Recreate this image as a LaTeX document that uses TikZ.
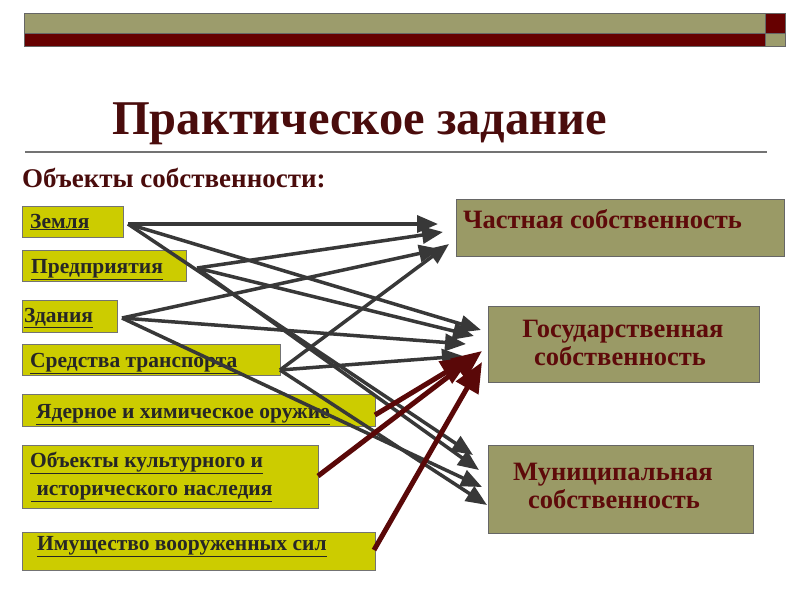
\documentclass[tikz,border=0pt]{standalone}
\usepackage{fontspec}
\setmainfont{Liberation Serif}
\usetikzlibrary{arrows.meta}
\definecolor{barolive}{HTML}{9C9C6C}
\definecolor{barred}{HTML}{660000}
\definecolor{boxolive}{HTML}{9A9A66}
\definecolor{boxyellow}{HTML}{CCCC00}
\definecolor{titlered}{HTML}{4A0C0C}
\definecolor{textred}{HTML}{5E0A0A}
\definecolor{linegray}{HTML}{383838}
\definecolor{linered}{HTML}{5A0808}
\newcommand{\ul}[1]{\underline{#1}}
\tikzset{
  lbox/.style={draw=black!55, line width=1pt, fill=boxyellow, anchor=north west, inner sep=0pt},
  ltext/.style={anchor=base west, inner sep=0pt, font=\fontsize{21.5}{26}\selectfont\bfseries, text=black!85},
  rbox/.style={draw=black!60, line width=1pt, fill=boxolive, anchor=north west, inner sep=0pt},
  rtext/.style={anchor=base west, inner sep=0pt, text=textred, font=\fontsize{26.5}{30}\selectfont\bfseries},
  garrow/.style={draw=linegray, line width=3.5pt, -{Triangle[length=21pt,width=17pt]}},
  rarrow/.style={draw=linered, line width=5pt, -{Triangle[length=30pt,width=25pt]}}
}
\begin{document}
\begin{tikzpicture}[x=1pt,y=-1pt]
\useasboundingbox (0,0) rectangle (800,600);
\fill[white] (0,0) rectangle (800,600);
% top bar
\fill[barolive] (24,13) rectangle (765,33);
\fill[barred] (24,33) rectangle (765,46);
\fill[barred] (765,13) rectangle (785,33);
\fill[barolive] (765,33) rectangle (785,46);
\draw[black!60, line width=0.6pt] (24,13) rectangle (785,46);
\draw[black!60, line width=0.6pt] (24,33) -- (785,33) (765,13) -- (765,46);
% title
\node[anchor=base west, text=titlered, font=\fontsize{48.5}{52}\selectfont\bfseries, inner sep=0pt] (title) at (112,134) {Практическое задание};
\draw[black!55, line width=1.2pt] (25,152) -- (767,152);
\node[anchor=base west, text=titlered, font=\fontsize{27}{30}\selectfont\bfseries, inner sep=0pt] (sub) at (22,187) {Объекты собственности:};
% left boxes
\node[lbox, minimum width=101pt, minimum height=31pt] (zem) at (22,206) {};
\node[lbox, minimum width=164pt, minimum height=31pt] (pred) at (22,250) {};
\node[lbox, minimum width=95pt, minimum height=32pt] (zd) at (22,300) {};
\node[lbox, minimum width=258pt, minimum height=31pt] (sr) at (22,344) {};
\node[lbox, minimum width=353pt, minimum height=32pt] (ya) at (22,394) {};
\node[lbox, minimum width=296pt, minimum height=63pt] (ob) at (22,445) {};
\node[lbox, minimum width=353pt, minimum height=38pt] (im) at (22,532) {};
\node[ltext] (tzem) at (30,228) {\ul{Земля}};
\node[ltext] (tpred) at (31,273) {\ul{Предприятия}};
\node[ltext] (tzd) at (24,322) {\ul{Здания}};
\node[ltext] (tsr) at (30,367) {\ul{Средства транспорта}};
\node[ltext] (tya) at (36,418) {\ul{Ядерное и химическое оружие}};
\node[ltext] (tob1) at (30,467) {\ul{Объекты культурного и}};
\node[ltext] (tob2) at (31,495) {\ul{ исторического наследия}};
\node[ltext] (tim) at (37,550) {\ul{Имущество вооруженных сил}};
% right boxes
\node[rbox, minimum width=328pt, minimum height=57pt] (ch) at (456,199) {};
\node[rbox, minimum width=271pt, minimum height=76pt] (gos) at (488,306) {};
\node[rbox, minimum width=265pt, minimum height=88pt] (mun) at (488,445) {};
\node[rtext] (tch) at (463,228) {Частная собственность};
\node[rtext, anchor=base] (tgos1) at (623,337) {Государственная};
\node[rtext, anchor=base] (tgos2) at (620,365) {собственность};
\node[rtext] (tmun1) at (513,480) {Муниципальная};
\node[rtext] (tmun2) at (528,508) {собственность};
% connector ends
\coordinate (sZ) at (128,224);
\coordinate (sP) at (197,268);
\coordinate (sZd) at (122,318);
\coordinate (sS) at (280,370);
\coordinate (sYa) at (375,415);
\coordinate (sOb) at (318,476);
\coordinate (sIm) at (374,550);
\coordinate (c1) at (438,224);
\coordinate (c2) at (443,232);
\coordinate (c3) at (440,249);
\coordinate (c4) at (449,244);
\coordinate (g1) at (481,330);
\coordinate (g2) at (474,336);
\coordinate (g3) at (466,344);
\coordinate (g4) at (463,356);
\coordinate (g5) at (471,357);
\coordinate (g6) at (482,351);
\coordinate (g7) at (482,362);
\coordinate (m1) at (473,455);
\coordinate (m2) at (479,470);
\coordinate (m3) at (482,487);
\coordinate (m4) at (487,505);
% gray arrows
\draw[garrow] (sZ) -- (c1);
\draw[garrow] (sZ) -- (g1);
\draw[garrow] (sZ) -- (m1);
\draw[garrow] (sP) -- (c2);
\draw[garrow] (sP) -- (g2);
\draw[garrow] (sP) -- (m2);
\draw[garrow] (sZd) -- (c3);
\draw[garrow] (sZd) -- (g3);
\draw[garrow] (sZd) -- (m3);
\draw[garrow] (sS) -- (c4);
\draw[garrow] (sS) -- (g4);
\draw[garrow] (sS) -- (m4);
% red arrows
\draw[rarrow] (sYa) -- (g5);
\draw[rarrow] (sOb) -- (g6);
\draw[rarrow] (sIm) -- (g7);
\end{tikzpicture}
\end{document}
